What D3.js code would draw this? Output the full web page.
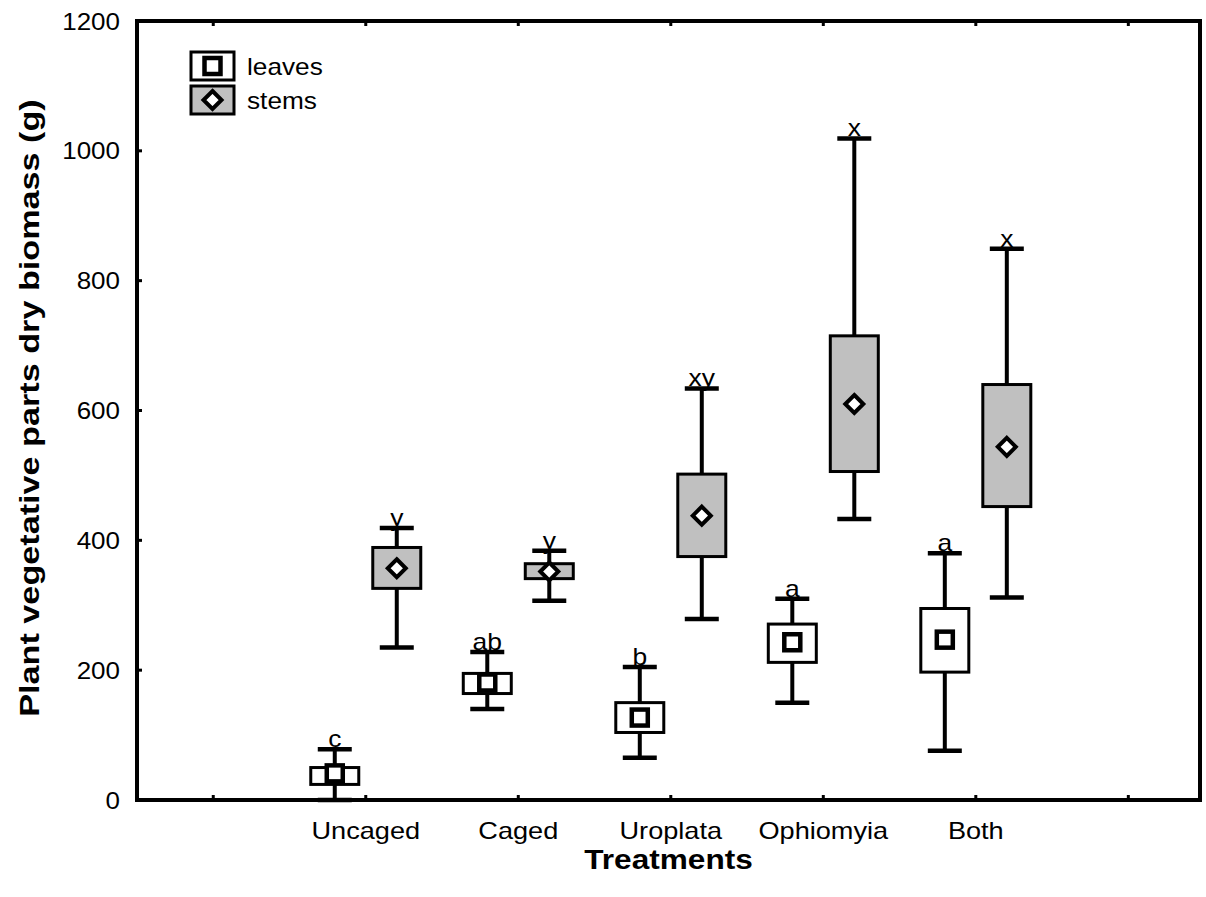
<!DOCTYPE html>
<html>
<head>
<meta charset="utf-8">
<script src="https://cdn.jsdelivr.net/npm/d3@7"></script>
<style>
  html, body { margin: 0; padding: 0; background: #fff; }
  svg { display: block; }
  text { font-family: "Liberation Sans", Arial, sans-serif; fill: #000; }
</style>
</head>
<body>
<svg id="chart" width="1206" height="897"></svg>
<script>
// ---------- data ----------
const categories = ["Uncaged", "Caged", "Uroplata", "Ophiomyia", "Both"];
const yTicks = [0, 200, 400, 600, 800, 1000, 1200];

const leavesMin  = [0, 140, 65, 150, 76];
const leavesQ1   = [24, 164, 104, 212, 197];
const leavesMean = [41, 181, 127, 243, 247];
const leavesQ3   = [50, 195, 150, 271, 295];
const leavesMax  = [78, 228, 205, 310, 380];
const leavesLetters = ["c", "ab", "b", "a", "a"];

const stemsMin  = [235, 307, 279, 433, 312];
const stemsQ1   = [326, 341, 375, 506, 452];
const stemsMean = [357, 352, 438, 610, 544];
const stemsQ3   = [389, 364, 502, 715, 640];
const stemsMax  = [419, 384, 634, 1019, 849];
const stemsLetters = ["y", "y", "xy", "x", "x"];

const seriesNames = ["leaves", "stems"];

// ---------- layout ----------
const svg = d3.select("#chart");
const L = 137, R = 1200, T = 21, B = 800;

// category positions: 1..5, empty slots at 0 and 6
const x = d3.scaleLinear().domain([-0.5, 6.47]).range([L, R]);
const y = d3.scaleLinear().domain([0, 1200]).range([B, T]);
const off = d3.scaleOrdinal().domain(seriesNames).range([-31, 31]);
const fillC = d3.scaleOrdinal().domain(seriesNames).range(["#ffffff", "#c0c0c0"]);

function stext(g, str, px, py, size, anchor, weight, sx) {
  return g.append("text")
    .attr("transform", `translate(${px},${py}) scale(${sx || 1},1)`)
    .attr("text-anchor", anchor || "middle")
    .style("font-size", size + "px")
    .style("font-weight", weight || "normal")
    .text(str);
}

// ---------- boxes ----------
const series = [
  {name: "leaves", min: leavesMin, q1: leavesQ1, mean: leavesMean, q3: leavesQ3, max: leavesMax, letters: leavesLetters},
  {name: "stems",  min: stemsMin,  q1: stemsQ1,  mean: stemsMean,  q3: stemsQ3,  max: stemsMax,  letters: stemsLetters}
];

const plot = svg.append("g");
const boxW = 48, capW = 34;

function marker(g, kind, cx, cy) {
  if (kind === "leaves") {
    g.append("rect").attr("x", cx - 8).attr("y", cy - 8).attr("width", 16).attr("height", 16)
      .attr("fill", "#fff").attr("stroke", "#000").attr("stroke-width", 4.5);
  } else {
    const r = 9;
    g.append("path").attr("d", `M${cx},${cy - r}L${cx + r},${cy}L${cx},${cy + r}L${cx - r},${cy}Z`)
      .attr("fill", "#fff").attr("stroke", "#000").attr("stroke-width", 4).attr("stroke-linejoin", "miter");
  }
}

series.forEach(s => {
  categories.forEach((c, i) => {
    const cx = x(i + 1) + off(s.name);
    const g = plot.append("g");
    g.append("line").attr("x1", cx).attr("x2", cx).attr("y1", y(s.min[i])).attr("y2", y(s.max[i]))
      .attr("stroke", "#000").attr("stroke-width", 4);
    [s.min[i], s.max[i]].forEach(v => {
      g.append("line").attr("x1", cx - capW / 2).attr("x2", cx + capW / 2).attr("y1", y(v)).attr("y2", y(v))
        .attr("stroke", "#000").attr("stroke-width", 4.5);
    });
    g.append("rect").attr("x", cx - boxW / 2).attr("y", y(s.q3[i]))
      .attr("width", boxW).attr("height", y(s.q1[i]) - y(s.q3[i]))
      .attr("fill", fillC(s.name)).attr("stroke", "#000").attr("stroke-width", 3);
    marker(g, s.name, cx, y(s.mean[i]));
    stext(g, s.letters[i], cx, y(s.max[i]) - 2, 23, "middle", "normal", 1.15);
  });
});

// ---------- frame ----------
svg.append("rect").attr("x", L).attr("y", T).attr("width", R - L).attr("height", B - T)
  .attr("fill", "none").attr("stroke", "#000").attr("stroke-width", 4);

// y ticks (inside) and labels
const ax = svg.append("g");
yTicks.forEach(v => {
  ax.append("line").attr("x1", L).attr("x2", L + 5).attr("y1", y(v)).attr("y2", y(v))
    .attr("stroke", "#000").attr("stroke-width", 3);
  stext(ax, String(v), 120, y(v) + 8.5, 23, "end", "normal", 1.13);
});
// x ticks (inside, top and bottom) at every slot
d3.range(0, 7).forEach(k => {
  ax.append("line").attr("x1", x(k)).attr("x2", x(k)).attr("y1", B).attr("y2", B - 5)
    .attr("stroke", "#000").attr("stroke-width", 3);
  ax.append("line").attr("x1", x(k)).attr("x2", x(k)).attr("y1", T).attr("y2", T + 5)
    .attr("stroke", "#000").attr("stroke-width", 3);
});
categories.forEach((c, i) => stext(ax, c, x(i + 1), 839, 23, "middle", "normal", 1.18));

// axis titles
stext(svg, "Treatments", (L + R) / 2, 869, 27, "middle", "bold", 1.17);
svg.append("text")
  .attr("transform", `translate(39,408) rotate(-90) scale(1.2,1)`)
  .attr("text-anchor", "middle")
  .style("font-size", "28.5px").style("font-weight", "bold")
  .text("Plant vegetative parts dry biomass (g)");

// ---------- legend ----------
const lg = svg.append("g");
seriesNames.forEach((n, i) => {
  const ly = 52 + i * 34;
  lg.append("rect").attr("x", 191).attr("y", ly).attr("width", 43).attr("height", 28)
    .attr("fill", fillC(n)).attr("stroke", "#000").attr("stroke-width", 3);
  marker(lg, n, 212.5, ly + 14);
  stext(lg, n, 247, ly + 23, 23, "start", "normal", 1.14);
});
</script>
</body>
</html>
